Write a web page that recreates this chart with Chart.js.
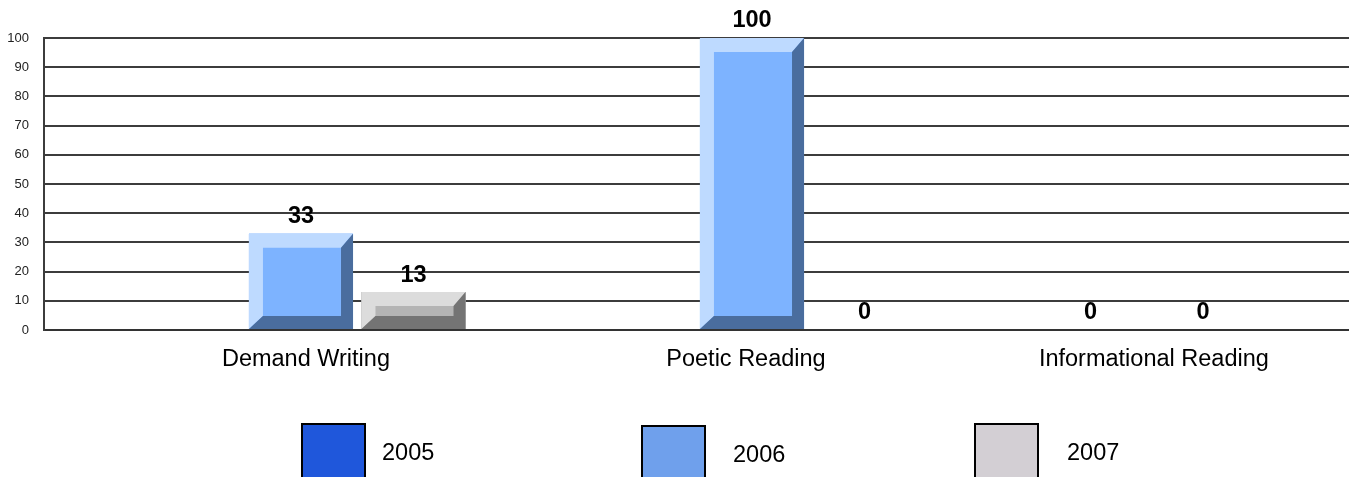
<!DOCTYPE html>
<html><head><meta charset="utf-8">
<script src="https://cdn.jsdelivr.net/npm/chart.js@4"></script>
<style>
html,body{margin:0;padding:0;background:#fff;overflow:hidden}
#wrap{position:relative;width:1349px;height:477px;overflow:hidden;font-family:"Liberation Sans",Arial,sans-serif}
canvas{position:absolute;left:0;top:0}
.sw{position:absolute;box-sizing:border-box;width:65px;height:70px;border:2px solid #000}
.lt{position:absolute;font-size:23.5px;line-height:28px;color:#000}
</style></head><body>
<div id="wrap"><canvas id="c" width="1349" height="477"></canvas></div>
<script>
const categories=["Demand Writing","Poetic Reading","Informational Reading"];
const years=["2005","2006","2007"];
const values2005=[null,null,0];
const values2006=[33,100,0];
const values2007=[13,0,null];
const yTicks=[0,10,20,30,40,50,60,70,80,90,100];
const legendColors=["#1F57DB","#6FA0EC","#D3CFD4"];

// style
const faces=["#1F57DB","#7DB3FF","#B4B4B4"];
const lights=["#7F9FEF","#BEDAFF","#DCDCDC"];
const darks=["#143A90","#4A6D9E","#747474"];
const labelAt=[0.011,0.9867,1.891];
const legendBox=[[301,423,382,438],[641,425,733,440],[974,423,1067,438]];

legendBox.forEach((b,i)=>{
  const w=document.getElementById('wrap');
  const s=document.createElement('div');s.className='sw';s.style.left=b[0]+'px';s.style.top=b[1]+'px';s.style.background=legendColors[i];w.appendChild(s);
  const t=document.createElement('div');t.className='lt';t.style.left=b[2]+'px';t.style.top=b[3]+'px';t.textContent=years[i];w.appendChild(t);
});

const bevel={id:'bevel',afterDatasetsDraw(chart){
  const g=chart.ctx;
  chart.data.datasets.forEach((ds,d)=>{
    chart.getDatasetMeta(d).data.forEach((bar,i)=>{
      const v=ds.data[i].y;
      if(v===null||v===undefined)return;
      const {x,y,base,width}=bar.getProps(['x','y','base','width'],true);
      const l=x-width/2,r=x+width/2;
      if(v>0){
        const bt=14,bl=14,br=12,bb=13;
        const poly=(c,pts)=>{g.fillStyle=c;g.beginPath();pts.forEach((p,k)=>k?g.lineTo(p[0],p[1]):g.moveTo(p[0],p[1]));g.closePath();g.fill();};
        poly(faces[d],[[l,y],[r,y],[r,base],[l,base]]);
        poly(lights[d],[[l,y],[r,y],[r-br,y+bt],[l+bl,y+bt],[l+bl,base-bb],[l,base]]);
        poly(darks[d],[[r,y],[r,base],[l,base],[l+bl,base-bb],[r-br,base-bb],[r-br,y+bt]]);
      }
      g.save();
      g.fillStyle='#000';g.font='bold 23.5px "Liberation Sans",Arial,sans-serif';
      g.textAlign='center';g.textBaseline='middle';
      g.fillText(String(v),x,y-17);
      g.restore();
    });
  });
}};

new Chart(document.getElementById('c'),{
  type:'bar',
  data:{datasets:[values2005,values2006,values2007].map((vals,d)=>({
    label:years[d],
    data:vals.map((v,i)=>({x:i,y:v})),
    backgroundColor:faces[d],borderWidth:0,
    categoryPercentage:0.8276,barPercentage:0.925
  }))},
  plugins:[bevel],
  options:{
    responsive:false,animation:false,devicePixelRatio:1,
    layout:{padding:{top:38,left:0,right:0,bottom:0}},
    plugins:{legend:{display:false},tooltip:{enabled:false}},
    scales:{
      x:{type:'linear',offset:false,min:-0.5698,max:2.3237,
        afterBuildTicks(s){s.ticks=labelAt.map(v=>({value:v}));},
        afterFit(s){s.height=147;},
        grid:{display:false},
        border:{color:'#333',width:2},
        ticks:{autoSkip:false,maxRotation:0,minRotation:0,padding:7,color:'#000',
          font:{family:'"Liberation Sans",Arial,sans-serif',size:23.5},
          callback:(v,i)=>categories[i]}
      },
      y:{min:0,max:100,
        afterBuildTicks(s){s.ticks=yTicks.map(v=>({value:v}));},
        afterFit(s){s.width=44;},
        grid:{color:'#3c3c3c',lineWidth:2,drawTicks:false},
        border:{color:'#3c3c3c',width:2},
        ticks:{padding:15,color:'#222',font:{family:'"Liberation Sans",Arial,sans-serif',size:13}}
      }
    }
  }
});
</script>
</body></html>
